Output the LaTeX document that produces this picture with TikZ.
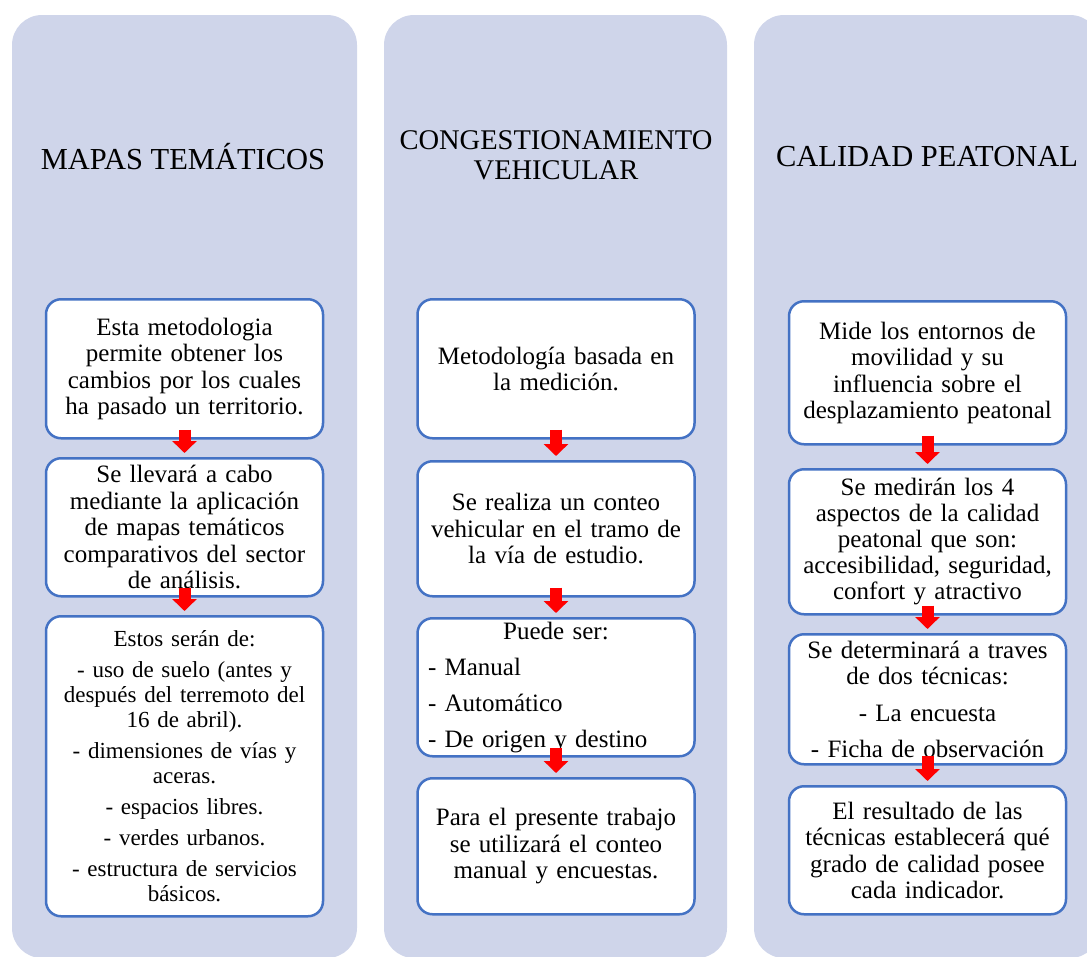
\documentclass[tikz,border=0pt]{standalone}
\usepackage{fontspec}
\setmainfont{Liberation Serif}
\usetikzlibrary{arrows.meta}
\definecolor{fondo}{HTML}{CFD5EA}
\definecolor{borde}{HTML}{4472C4}

\begin{document}
\begin{tikzpicture}[x=1pt,y=-1pt,
    columna/.style={fill=fondo, rounded corners=30pt},
    caja/.style={draw=borde, line width=2.5pt, fill=white, rounded corners=15pt, anchor=north,
        minimum width=277pt, text width=262pt, inner xsep=7.5pt, inner ysep=3pt, align=center,
        font=\fontsize{25}{26.5}\selectfont},
    titulo/.style={align=center, font=\fontsize{30.5}{30}\selectfont},
    flecha/.style={line width=12pt, red, -{Triangle[width=24pt,length=12pt]},
        shorten <=-10pt, shorten >=4pt}]
    \useasboundingbox (0,0) rectangle (1087,956);
    \fill[columna] (12,15) rectangle (357,958);
    \fill[columna] (384,15) rectangle (727,958);
    \fill[columna] (754,15) rectangle (1100,958);

    \node[titulo] (tm) at (183,157) {MAPAS TEMÁTICOS};
    \node[titulo, font=\fontsize{28.5}{30}\selectfont] (tc) at (556,155) {CONGESTIONAMIENTO\\VEHICULAR};
    \node[titulo] (tp) at (927,157) {CALIDAD PEATONAL};

    \node[caja, minimum height=139pt] (m1) at (184.5,298)
        {Esta metodologia\\permite obtener los\\cambios por los cuales\\ha pasado un territorio.};
    \node[caja, minimum height=138pt] (m2) at (184.5,457)
        {Se llevará a cabo\\mediante la aplicación\\de mapas temáticos\\comparativos del sector\\de análisis.};
    \node[caja, minimum height=300pt, font=\fontsize{23}{25}\selectfont] (m3) at (184.5,615)
        {Estos serán de:\\[6pt]- uso de suelo (antes y\\después del terremoto del\\16 de abril).\\[6pt]- dimensiones de vías y\\aceras.\\[6pt]- espacios libres.\\[6pt]- verdes urbanos.\\[6pt]- estructura de servicios\\básicos.};

    \node[caja, minimum height=139pt] (c1) at (556,298) {Metodología basada en\\la medición.};
    \node[caja, minimum height=135pt] (c2) at (556,460)
        {Se realiza un conteo\\vehicular en el tramo de\\la vía de estudio.};
    \node[caja, minimum height=138pt, align=left, inner ysep=0pt] (c3) at (556,617)
        {\makebox[262pt]{Puede ser:}\\[9.5pt]\hspace*{3pt}- Manual\\[9.5pt]\hspace*{3pt}- Automático\\[9.5pt]\hspace*{3pt}- De origen y destino};
    \node[caja, minimum height=136pt] (c4) at (556,777)
        {Para el presente trabajo\\se utilizará el conteo\\manual y encuestas.};

    \node[caja, minimum height=143pt] (p1) at (927.5,300)
        {Mide los entornos de\\movilidad y su\\influencia sobre el\\desplazamiento peatonal};
    \node[caja, minimum height=145pt, font=\fontsize{25}{26}\selectfont] (p2) at (927.5,468)
        {Se medirán los 4\\aspectos de la calidad\\peatonal que son:\\accesibilidad, seguridad,\\confort y atractivo};
    \node[caja, minimum height=130pt, inner ysep=0pt] (p3) at (927.5,633)
        {Se determinará a traves\\de dos técnicas:\\[10pt]- La encuesta\\[10pt]- Ficha de observación};
    \node[caja, minimum height=128pt] (p4) at (927.5,785)
        {El resultado de las\\técnicas establecerá qué\\grado de calidad posee\\cada indicador.};

    \foreach \a/\b in {m1/m2, m2/m3, c1/c2, c2/c3, c3/c4, p1/p2, p2/p3, p3/p4}
        \draw[flecha] (\a.south) -- (\b.north);
\end{tikzpicture}
\end{document}
